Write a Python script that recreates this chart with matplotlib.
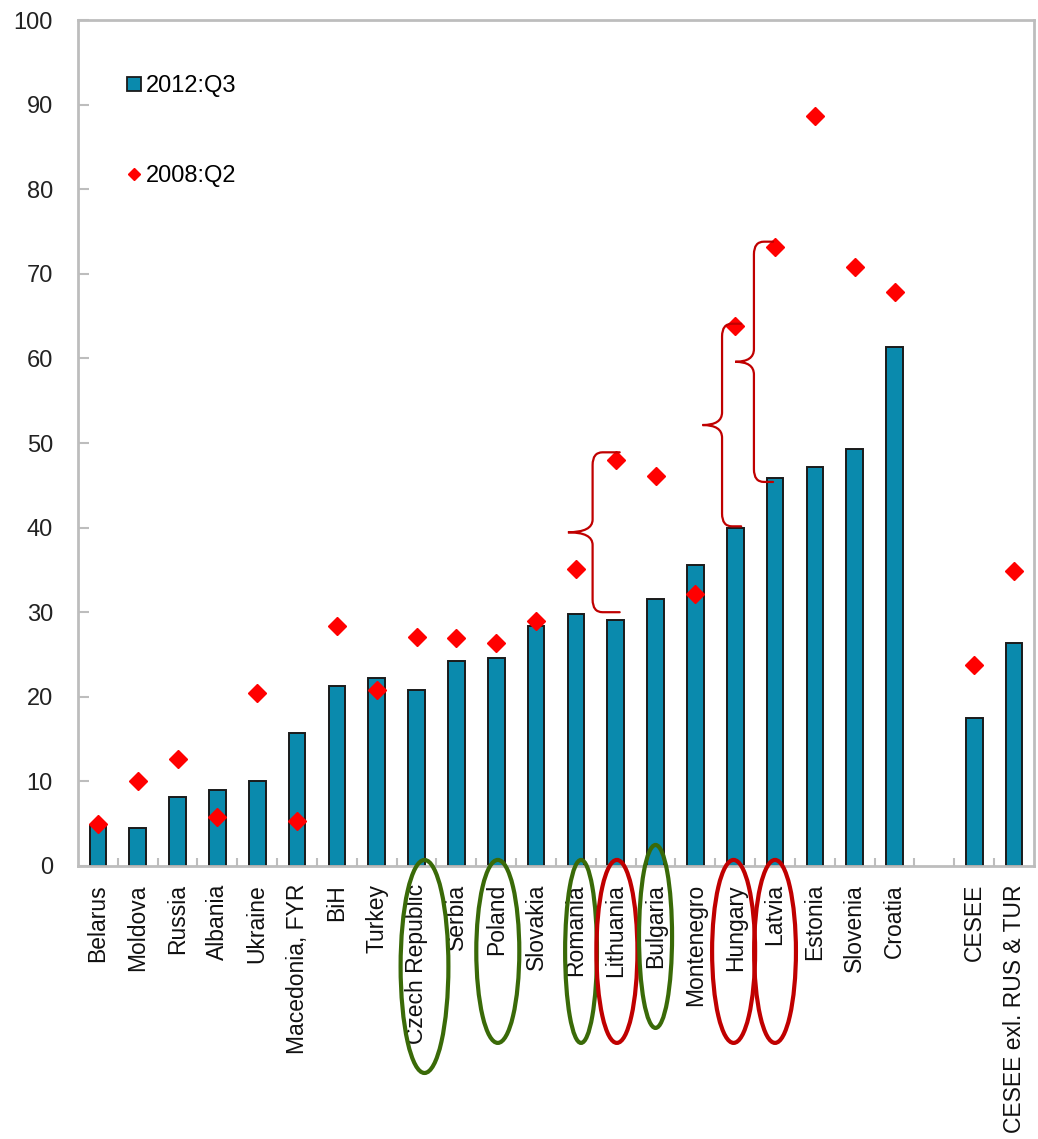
import matplotlib
matplotlib.use("Agg")
import matplotlib.pyplot as plt
from matplotlib.patches import Ellipse, PathPatch
from matplotlib.path import Path
from matplotlib.lines import Line2D
import matplotlib.transforms as mtransforms

# --- data -----------------------------------------------------------------
countries = ["Belarus", "Moldova", "Russia", "Albania", "Ukraine", "Macedonia, FYR",
             "BiH", "Turkey", "Czech Republic", "Serbia", "Poland", "Slovakia",
             "Romania", "Lithuania", "Bulgaria", "Montenegro", "Hungary", "Latvia",
             "Estonia", "Slovenia", "Croatia", "", "CESEE", "CESEE exl. RUS & TUR"]
q3_2012 = [4.7, 4.5, 8.1, 9.0, 10.1, 15.7, 21.3, 22.2, 20.8, 24.2, 24.6, 28.4,
           29.8, 29.1, 31.6, 35.6, 39.9, 45.9, 47.2, 49.3, 61.4, None, 17.5, 26.4]
q2_2008 = [5.0, 10.1, 12.6, 5.8, 20.4, 5.3, 28.4, 20.8, 27.1, 27.0, 26.4, 29.0,
           35.1, 48.0, 46.1, 32.1, 63.8, 73.2, 88.6, 70.8, 67.8, None, 23.7, 34.9]
yticks = [0, 10, 20, 30, 40, 50, 60, 70, 80, 90, 100]

# highlighted labels: (country, colour)
circled = [("Czech Republic", "#3A6A08"), ("Poland", "#3A6A08"), ("Romania", "#3A6A08"),
           ("Lithuania", "#C00000"), ("Bulgaria", "#3A6A08"), ("Hungary", "#C00000"),
           ("Latvia", "#C00000")]
braced = ["Lithuania", "Hungary", "Latvia"]

# --- styling --------------------------------------------------------------
BAR = "#0A8AAD"
RED = "#FF0000"
SPINE = "#BDBDBD"
plt.rcParams["font.family"] = ["Liberation Sans", "DejaVu Sans"]

fig = plt.figure(figsize=(10.38, 11.39), dpi=100)
ax = fig.add_axes([0.0751, 0.2397, 0.9210, 0.7427])

xs = list(range(len(countries)))
bx = [x for x, v in zip(xs, q3_2012) if v is not None]
bv = [v for v in q3_2012 if v is not None]
dv = [v for v in q2_2008 if v is not None]

ax.bar(bx, bv, width=0.42, color=BAR, edgecolor="#1A1A1A", linewidth=1.4, zorder=2)
ax.plot(bx, dv, ls="none", marker="D", ms=9, color=RED, mec=RED, zorder=3)

ax.set_xlim(-0.5, len(countries) - 0.5)
ax.set_ylim(0, 100)
ax.set_yticks(yticks)
ax.set_yticklabels([str(t) for t in yticks], fontsize=17, color="#222222")
ax.set_xticks(xs)
ax.set_xticklabels(countries, rotation=90, fontsize=16.5, color="#111111")
ax.tick_params(axis="x", length=0, pad=13)
ax.set_xticks([x + 0.5 for x in xs[:-1]], minor=True)
ax.tick_params(axis="x", which="minor", direction="in", length=6, width=1.5, color=SPINE)
ax.tick_params(axis="y", direction="in", length=8, width=1.5, color=SPINE, pad=18)
for s in ax.spines.values():
    s.set_color(SPINE)
    s.set_linewidth(2)

# legend
handles = [Line2D([], [], ls="none", marker="s", ms=10.5, mfc=BAR, mec="#1A1A1A", mew=1.3),
           Line2D([], [], ls="none", marker="D", ms=6.5, color=RED)]
ax.legend(handles, ["2012:Q3", "2008:Q2"], loc="upper left", bbox_to_anchor=(0.0365, 0.949),
          frameon=False, fontsize=17, labelspacing=2.88, handlelength=0.8,
          handletextpad=0.1, borderpad=0)

# ellipses around selected labels (x in data units, y in axes fraction)
blend = mtransforms.blended_transform_factory(ax.transData, ax.transAxes)
ell_geom = {"Czech Republic": (0.2, -0.1188, 1.2, 0.2518),
            "Poland": (0.04, -0.101, 1.08, 0.2163),
            "Romania": (0.13, -0.101, 0.8, 0.2163),
            "Lithuania": (0.03, -0.101, 1.03, 0.2163),
            "Bulgaria": (0.0, -0.0833, 0.83, 0.2163),
            "Hungary": (-0.04, -0.101, 1.08, 0.2163),
            "Latvia": (0.0, -0.101, 1.05, 0.2163)}
for name, col in circled:
    i = countries.index(name)
    dx, cy, w, h = ell_geom[name]
    e = Ellipse((i + dx, cy), w, h, transform=blend, fill=False, edgecolor=col,
                linewidth=3, clip_on=False, zorder=5)
    ax.add_patch(e)


def brace(ax, xv, xr, xt, y0, y1, rx=0.25, ry=1.5, color="#C00000"):
    ym = (y0 + y1) / 2
    verts = [(xr, y1), (xv + rx, y1), (xv, y1), (xv, y1 - ry),
             (xv, ym + ry), (xv, ym), (xt, ym), (xv, ym), (xv, ym - ry),
             (xv, y0 + ry), (xv, y0), (xv + rx, y0), (xr, y0)]
    codes = [Path.MOVETO, Path.LINETO, Path.CURVE3, Path.CURVE3,
             Path.LINETO, Path.CURVE3, Path.CURVE3, Path.CURVE3, Path.CURVE3,
             Path.LINETO, Path.CURVE3, Path.CURVE3, Path.LINETO]
    ax.add_patch(PathPatch(Path(verts, codes), fill=False, edgecolor=color,
                           linewidth=1.6, zorder=4, capstyle="round"))


brace_geom = {"Lithuania": (-0.58, 0.1, -1.2, 0.9, 0.9),
              "Hungary": (-0.33, 0.15, -0.82, 0.25, 0.3),
              "Latvia": (-0.53, -0.05, -1.0, -0.5, 0.6)}
for name in braced:
    i = countries.index(name)
    ov, orr, ot, pad0, pad1 = brace_geom[name]
    lo, hi = q3_2012[i], q2_2008[i]
    brace(ax, i + ov, i + orr, i + ot, lo + pad0, hi + pad1)

fig.savefig("out.png", dpi=100)
